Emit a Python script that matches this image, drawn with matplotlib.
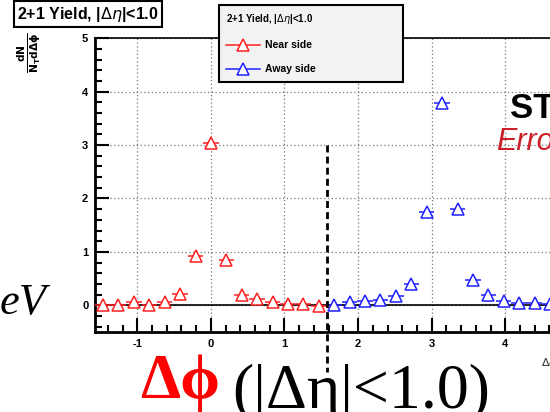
import numpy as np
import matplotlib
matplotlib.use("Agg")
import matplotlib.pyplot as plt
from matplotlib.ticker import MultipleLocator
from matplotlib.lines import Line2D

plt.rcParams['font.family'] = ['Liberation Sans', 'DejaVu Sans']
plt.rcParams['mathtext.fontset'] = 'dejavusans'
plt.rcParams['axes.unicode_minus'] = False

# 2+1 correlation yield, near side and away side bins in delta-phi
near_x = [-1.466, -1.257, -1.047, -0.838, -0.628, -0.419, -0.209, 0.0,
          0.209, 0.419, 0.628, 0.838, 1.047, 1.257, 1.466]
near_y = [0.00, 0.01, 0.06, 0.01, 0.07, 0.22, 0.92, 3.03,
          0.84, 0.19, 0.11, 0.06, 0.02, 0.02, -0.01]
away_x = [1.676, 1.885, 2.094, 2.304, 2.513, 2.723, 2.932, 3.142,
          3.351, 3.560, 3.770, 3.979, 4.189, 4.398, 4.608]
away_y = [0.00, 0.06, 0.08, 0.09, 0.17, 0.39, 1.75, 3.79,
          1.81, 0.47, 0.19, 0.08, 0.04, 0.04, 0.02]
half_bin = 0.105

fig = plt.figure(figsize=(5.5, 4.12), dpi=100)
W, H = 550.0, 412.0
ax = fig.add_axes([95.3 / W, 1 - 332 / H, (557.7 - 95.3) / W, (332 - 38.3) / H])

ax.set_xlim(-np.pi / 2, 3 * np.pi / 2)
ax.set_ylim(-0.5, 5)

ax.grid(True, which='major', linestyle=(0, (1, 2)), color='#777777', linewidth=0.9)
ax.axhline(0, color='black', linewidth=1.2, zorder=2)

ax.errorbar(near_x, near_y, xerr=half_bin, fmt='^', ms=8, mfc='white',
            mec='#ff2020', color='#ff2020', elinewidth=1.1, mew=1.1,
            capsize=0, zorder=3)
ax.errorbar(away_x, away_y, xerr=half_bin, fmt='^', ms=8, mfc='white',
            mec='#2020ff', color='#2020ff', elinewidth=1.1, mew=1.1,
            capsize=0, zorder=3)

# boundary between near and away side
ax.plot([np.pi / 2, np.pi / 2], [3, -1.25], color='black', linewidth=2,
        linestyle=(0, (2.5, 1.5)), clip_on=False, zorder=4)

ax.spines['right'].set_visible(False)
ax.spines['left'].set_linewidth(2)
ax.spines['bottom'].set_linewidth(2)
ax.spines['top'].set_linewidth(1.2)

ax.xaxis.set_major_locator(MultipleLocator(1))
ax.xaxis.set_minor_locator(MultipleLocator(0.2))
ax.yaxis.set_major_locator(MultipleLocator(1))
ax.yaxis.set_minor_locator(MultipleLocator(0.2))
ax.tick_params(which='both', direction='in', top=False, right=False, width=1.5)
ax.tick_params(which='major', length=10, labelsize=8, pad=5)
ax.tick_params(which='minor', length=5)
for lab in ax.get_xticklabels() + ax.get_yticklabels():
    lab.set_fontweight('bold')

fig.text(29 / W, 1 - 32 / H, r'$\mathbf{\frac{dN}{N_{T}d\Delta\phi}}$', rotation=90,
         ha='center', va='top', fontsize=11)
fig.text(558 / W, 1 - 366 / H, r'$\Delta\phi$', ha='right', va='baseline',
         fontsize=8, color='#333333')

fig.text(88 / W, 1 - 14 / H, r'2+1 Yield, |$\Delta\eta$|<1.0', ha='center', va='center',
         fontsize=11.5, fontweight='bold',
         bbox=dict(boxstyle='square,pad=0.2', fc='white', ec='black', lw=1.5))

near_h = Line2D([], [], color='#ff2020', marker='^', ms=8, mfc='white', mew=1.1, lw=1.1)
away_h = Line2D([], [], color='#2020ff', marker='^', ms=8, mfc='white', mew=1.1, lw=1.1)
leg = ax.legend(handles=[near_h, away_h], labels=['Near side', 'Away side'],
                title=r'2+1 Yield, |$\Delta\eta$|<1.0', loc='upper left',
                bbox_to_anchor=(219 / W, 1 - 79 / H, (403 - 219) / W, (79 - 5) / H),
                bbox_transform=fig.transFigure, mode='expand', alignment='left',
                frameon=True, fancybox=False, edgecolor='black', facecolor='#f2f2f2',
                framealpha=1, prop={'weight': 'bold', 'size': 7.5},
                title_fontproperties={'weight': 'bold', 'size': 7},
                labelspacing=1.35, handlelength=3.2, handletextpad=0.5,
                borderpad=0.7, borderaxespad=0)
leg.get_frame().set_linewidth(1.5)
leg.set_zorder(10)

# slide overlay texts
fig.text(510 / W, 1 - 118 / H, 'STAR', fontsize=25, fontweight='bold', color='black')
fig.text(496 / W, 1 - 150 / H, 'Error', fontsize=22, style='italic', color='#cc2028')
fig.text(0, 1 - 314 / H, 'eV', fontsize=32, style='italic', color='black',
         family=['Liberation Serif', 'DejaVu Serif'])
fig.text(140 / W, 1 - 398 / H, 'Δϕ', fontsize=46, fontweight='bold', color='#ff0000',
         family=['Liberation Serif', 'DejaVu Serif'])
fig.text(232 / W, 1 - 408 / H, '(|Δη|<1.0)', fontsize=46, color='black',
         family=['Liberation Serif', 'DejaVu Serif'])

fig.savefig('out.png', dpi=100)
